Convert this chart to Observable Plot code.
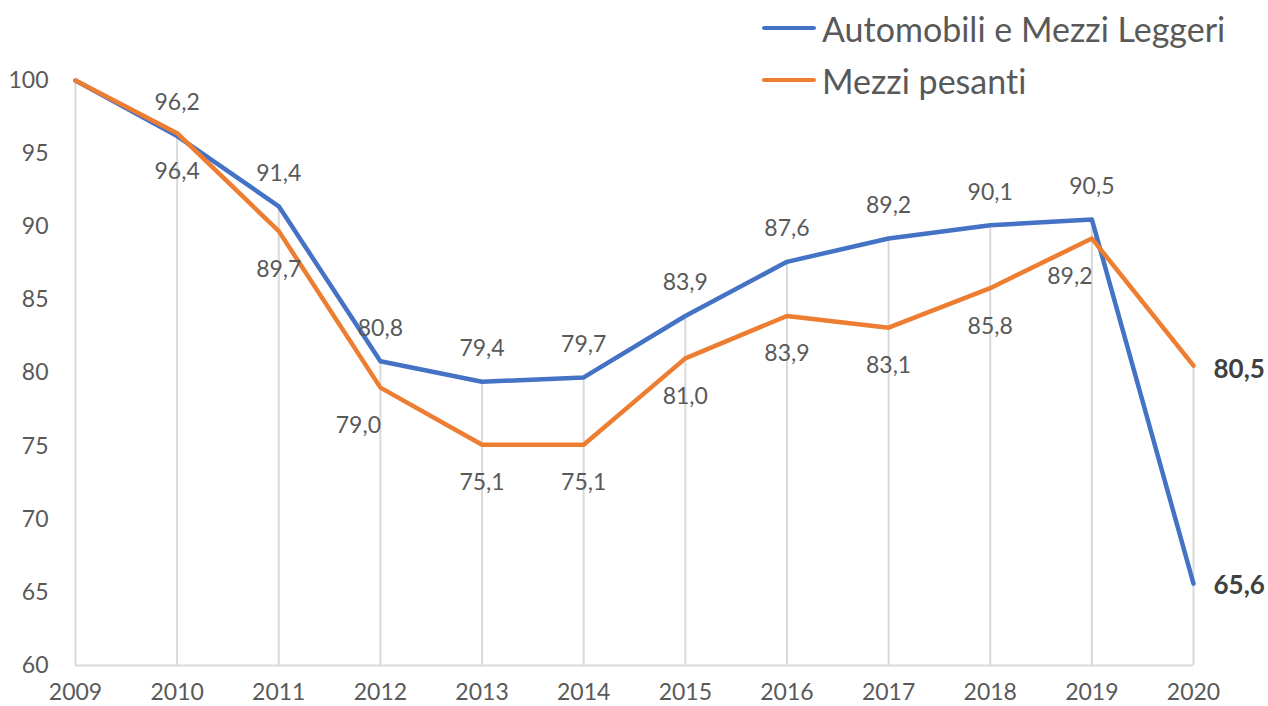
<!DOCTYPE html>
<html>
<head>
<meta charset="utf-8">
<script src="https://cdn.jsdelivr.net/npm/d3@7"></script>
<script src="https://cdn.jsdelivr.net/npm/@observablehq/plot@0.6"></script>
<style>
  html, body { margin: 0; padding: 0; background: #fff; }
  #wrap { position: relative; width: 1268px; height: 706px; font-family: Lato, "Open Sans", sans-serif; font-variant-ligatures: none; }
  #legend { position: absolute; left: 762px; top: 2px; color: #595959; font-size: 34px; font-variant-ligatures: none; font-feature-settings: "liga" 0; }
  #legend .item { display: flex; align-items: center; height: 52px; }
  #legend .sw { width: 54px; height: 4px; border-radius: 2px; margin-right: 6px; }
</style>
</head>
<body>
<div id="wrap">
  <div id="chart"></div>
  <div id="legend"></div>
</div>
<script>
const years = [2009, 2010, 2011, 2012, 2013, 2014, 2015, 2016, 2017, 2018, 2019, 2020];
const automobili = [100, 96.2, 91.4, 80.8, 79.4, 79.7, 83.9, 87.6, 89.2, 90.1, 90.5, 65.6];
const pesanti = [100, 96.4, 89.7, 79.0, 75.1, 75.1, 81.0, 83.9, 83.1, 85.8, 89.2, 80.5];
const yTicks = [60, 65, 70, 75, 80, 85, 90, 95, 100];
const seriesNames = ["Automobili e Mezzi Leggeri", "Mezzi pesanti"];
const seriesColors = ["#4472C4", "#ED7D31"];
const shiftedOrangeYears = [2012, 2019];

const rows = years.map((year, i) => ({ year, auto: automobili[i], pes: pesanti[i] }));
const fmt = v => d3.format(".1f")(v).replace(".", ",");
const mid = rows.filter(d => d.year > 2009 && d.year < 2020);
const midPlain = mid.filter(d => !shiftedOrangeYears.includes(d.year));
const midShift = mid.filter(d => shiftedOrangeYears.includes(d.year));
const last = rows.filter(d => d.year === 2020);

const chart = Plot.plot({
  width: 1268,
  height: 706,
  marginLeft: 75,
  marginRight: 75,
  marginTop: 80,
  marginBottom: 41,
  style: { fontFamily: "Lato, 'Open Sans', sans-serif", fontSize: "23px", color: "#595959", background: "#fff", overflow: "visible" },
  x: { domain: [2009, 2020], ticks: years, tickFormat: d => String(d), tickSize: 0, tickPadding: 18, label: null },
  y: { domain: [60, 100], ticks: yTicks, tickSize: 0, tickPadding: 27, label: null },
  marks: [
    Plot.ruleX(rows, { x: "year", y1: 60, y2: d => Math.max(d.auto, d.pes), stroke: "#d9d9d9", strokeWidth: 2 }),
    Plot.ruleY([60], { stroke: "#d9d9d9", strokeWidth: 2 }),
    Plot.line(rows, { x: "year", y: "auto", stroke: seriesColors[0], strokeWidth: 4.5 }),
    Plot.line(rows, { x: "year", y: "pes", stroke: seriesColors[1], strokeWidth: 4.5 }),
    Plot.text(mid, { x: "year", y: "auto", text: d => fmt(d.auto), dy: -33, fill: "#595959", fontSize: 23 }),
    Plot.text(midPlain, { x: "year", y: "pes", text: d => fmt(d.pes), dy: 38, fill: "#595959", fontSize: 23 }),
    Plot.text(midShift, { x: "year", y: "pes", text: d => fmt(d.pes), dx: -22, dy: 38, fill: "#595959", fontSize: 23 }),
    Plot.text(last, { x: "year", y: "auto", text: d => fmt(d.auto), dx: 20, dy: 2, textAnchor: "start", fill: "#404040", fontSize: 26, fontWeight: "bold" }),
    Plot.text(last, { x: "year", y: "pes", text: d => fmt(d.pes), dx: 20, dy: 4, textAnchor: "start", fill: "#404040", fontSize: 26, fontWeight: "bold" })
  ]
});
document.getElementById("chart").appendChild(chart);

const legend = document.getElementById("legend");
seriesNames.forEach((name, i) => {
  const item = document.createElement("div");
  item.className = "item";
  const sw = document.createElement("span");
  sw.className = "sw";
  sw.style.background = seriesColors[i];
  const t = document.createElement("span");
  t.textContent = name;
  item.appendChild(sw);
  item.appendChild(t);
  legend.appendChild(item);
});
</script>
</body>
</html>
